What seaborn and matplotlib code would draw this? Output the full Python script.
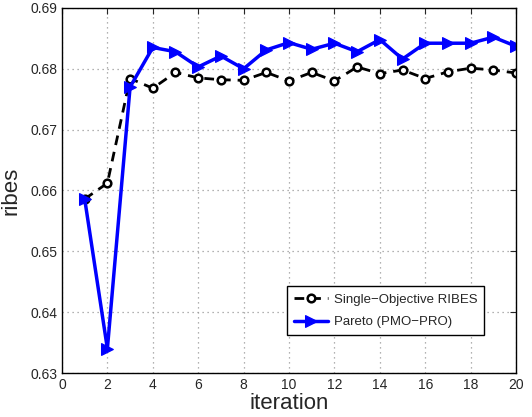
import pandas as pd
import seaborn as sns
import matplotlib.pyplot as plt

# values
iterations = list(range(1, 21))
single_ribes = [0.6586, 0.6612, 0.6784, 0.6768, 0.6794, 0.6785, 0.6782, 0.6781, 0.6794, 0.6780,
                0.6794, 0.6780, 0.6803, 0.6792, 0.6798, 0.6784, 0.6795, 0.6801, 0.6798, 0.6793]
pareto_pro = [0.6586, 0.6340, 0.6770, 0.6835, 0.6828, 0.6803, 0.6821, 0.6800, 0.6831, 0.6843,
              0.6832, 0.6842, 0.6828, 0.6848, 0.6816, 0.6842, 0.6842, 0.6842, 0.6852, 0.6837]
series_names = ["Single\u2212Objective RIBES", "Pareto (PMO\u2212PRO)"]

df = pd.DataFrame({
    "iteration": iterations * 2,
    "ribes": single_ribes + pareto_pro,
    "method": [series_names[0]] * 20 + [series_names[1]] * 20,
})

sns.set_style("white")
plt.rcParams["font.family"] = ["Liberation Sans", "DejaVu Sans"]

fig = plt.figure(figsize=(5.32, 4.17), dpi=100)
ax = fig.add_axes([0.1165, 0.1055, 0.8535, 0.8755])

sns.lineplot(data=df[df["method"] == series_names[0]], x="iteration", y="ribes",
             ax=ax, color="black", linestyle=(0, (3.5, 2.5)), linewidth=2, marker="o",
             markersize=5.5, markerfacecolor="white", markeredgecolor="black",
             markeredgewidth=1.8, label=series_names[0])
sns.lineplot(data=df[df["method"] == series_names[1]], x="iteration", y="ribes",
             ax=ax, color="#0000ff", linewidth=2.5, marker=">", markersize=9,
             markerfacecolor="#0000ff", markeredgecolor="#0000ff", label=series_names[1])

ax.set_xlim(0, 20)
ax.set_ylim(0.63, 0.69)
ax.set_xticks(range(0, 21, 2))
ax.set_yticks([0.63, 0.64, 0.65, 0.66, 0.67, 0.68, 0.69])
ax.set_yticklabels(["0.63", "0.64", "0.65", "0.66", "0.67", "0.68", "0.69"])
ax.tick_params(direction="in", top=True, right=True, labelsize=10, length=4, width=0.8)
ax.grid(True, linestyle=(0, (1, 3)), color="#999999", linewidth=0.9)
for s in ax.spines.values():
    s.set_color("black")
    s.set_linewidth(1)

ax.set_xlabel("iteration", fontsize=16, labelpad=1)
ax.set_ylabel("ribes", fontsize=16, labelpad=6)

leg = ax.legend(loc="lower right", bbox_to_anchor=(0.945, 0.085), fontsize=9.5,
                frameon=True, fancybox=False, edgecolor="black", framealpha=1,
                handlelength=2.6, handletextpad=0.4, borderpad=0.55, labelspacing=0.75)
leg.get_frame().set_linewidth(1)

fig.savefig("out.png", dpi=100)
